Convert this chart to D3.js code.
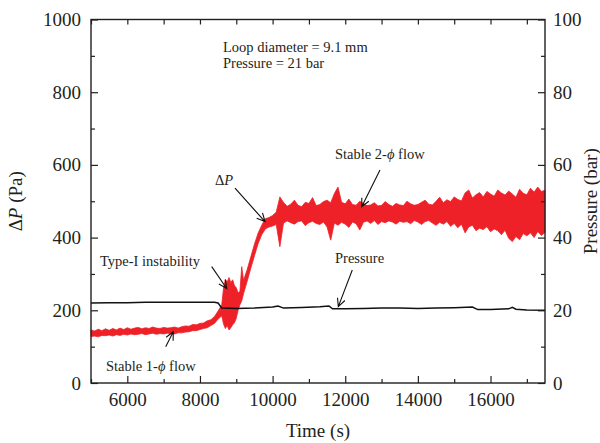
<!DOCTYPE html>
<html>
<head>
<meta charset="utf-8">
<script src="https://cdnjs.cloudflare.com/ajax/libs/d3/7.8.5/d3.min.js"></script>
<style>
  body { margin: 0; background: #fff; }
  text { font-family: "Liberation Serif", "Times New Roman", serif; fill: #231f20; }
  .tick text { font-size: 19px; }
  .axis-title { font-size: 19px; }
  .note { font-size: 14.5px; }
</style>
</head>
<body>
<div id="chart"></div>
<script>

// [time (s), low ΔP, high ΔP]  envelope of the noisy red trace
const deltaP = [
  [5000,128,146],[5100,129,143],[5200,127,148],[5300,131,144],[5400,130,149],
  [5500,132,145],[5600,129,150],[5700,133,146],[5800,131,151],[5900,134,147],
  [6000,132,152],[6100,135,148],[6200,133,151],[6300,134,153],[6400,136,149],
  [6500,133,152],[6600,135,150],[6700,137,154],[6800,134,151],[6900,136,150],
  [7000,135,153],[7100,137,151],[7200,136,152],[7300,135,154],[7400,138,151],
  [7500,138,155],[7600,140,157],[7700,141,156],[7800,144,161],[7900,144,160],
  [8000,147,164],[8100,150,165],[8200,152,171],[8300,158,174],[8400,164,183],
  [8500,176,198],[8600,185,215],[8650,162,262],[8700,150,285],[8750,158,278],
  [8800,146,290],[8850,152,276],[8900,160,284],[8950,166,268],[9000,178,262],
  [9050,200,248],[9100,215,252],[9150,226,320],[9200,246,282],[9300,280,312],
  [9400,316,347],[9500,350,382],[9600,383,412],[9700,408,434],[9800,424,452],
  [9900,429,455],[10000,432,461],[10100,436,470],[10200,375,512],[10300,440,497],
  [10400,446,486],[10500,441,492],[10600,437,503],[10700,444,489],[10800,446,485],
  [10900,433,497],[11000,441,494],[11100,445,510],[11200,439,488],[11300,436,491],
  [11400,443,499],[11500,429,503],[11600,393,496],[11700,440,521],[11800,434,539],
  [11900,442,497],[12000,437,493],[12100,428,506],[12200,443,491],[12300,438,489],
  [12400,421,500],[12500,442,494],[12600,446,488],[12700,439,490],[12800,447,496],
  [12900,436,487],[13000,444,489],[13100,441,499],[13200,446,491],[13300,443,486],
  [13400,437,494],[13500,445,490],[13600,442,488],[13700,444,500],[13800,438,493],
  [13900,447,489],[14000,443,491],[14100,436,497],[14200,444,503],[14300,447,492],
  [14400,440,490],[14500,434,500],[14600,442,511],[14700,437,496],[14800,444,504],
  [14900,431,499],[15000,439,512],[15100,427,505],[15200,437,501],[15300,413,523],
  [15400,429,531],[15500,434,509],[15600,419,518],[15700,426,524],[15800,422,512],
  [15900,430,527],[16000,416,520],[16100,424,514],[16200,419,531],[16300,408,523],
  [16400,420,517],[16500,398,528],[16600,389,520],[16700,403,511],[16800,394,533],
  [16900,411,522],[17000,405,518],[17100,413,536],[17200,400,525],[17300,417,539],
  [17400,406,527],[17500,414,530]
];

// [time (s), pressure (bar)]
const pressure = [
  [5000,22.0],[5500,22.1],[6000,22.1],[6500,22.2],[7000,22.2],[7500,22.2],
  [8000,22.2],[8400,22.2],[8500,22.0],[8600,20.6],[9000,20.5],[9500,20.6],
  [10000,20.9],[10150,21.2],[10300,20.6],[10800,20.8],[11300,21.0],[11550,21.2],
  [11650,20.4],[12000,20.4],[12500,20.5],[13000,20.6],[13500,20.6],[14000,20.5],
  [14500,20.6],[15000,20.7],[15500,20.9],[15650,20.2],[16000,20.2],[16500,20.4],
  [16600,20.8],[16700,20.3],[17000,20.1],[17500,20.0]
];

const timeTicks = [6000, 8000, 10000, 12000, 14000, 16000];
const timeMinor = [5000, 7000, 9000, 11000, 13000, 15000, 17000];
const dpTicks = [0, 200, 400, 600, 800, 1000];
const dpMinor = [100, 300, 500, 700, 900];
const presTicks = [0, 20, 40, 60, 80, 100];
const presMinor = [10, 30, 50, 70, 90];

// labels placed in data units (time, ΔP)
const notes = [
  {t: 8634, v: 910, parts: [["Loop diameter = 9.1 mm", false]]},
  {t: 8634, v: 867, parts: [["Pressure = 21 bar", false]]},
  {t: 8414, v: 545, parts: [["Δ", false], ["P", true]]},
  {t: 11718, v: 615, parts: [["Stable 2-", false], ["ϕ", true], [" flow", false]]},
  {t: 5248, v: 322, parts: [["Type-I instability", false]]},
  {t: 11718, v: 331, parts: [["Pressure", false]]},
  {t: 5413, v: 34, parts: [["Stable 1-", false], ["ϕ", true], [" flow", false]]}
];

// [tail time, tail ΔP, tip time, tip ΔP]
const arrows = [
  [8965, 536, 9791, 444],
  [12957, 586, 12453, 485],
  [8323, 320, 8736, 260],
  [12194, 311, 11809, 210],
  [7057, 100, 7266, 141]
];


class LoopVis {

  constructor(_parentElement, _dp, _pres) {
    this.parentElement = _parentElement;
    this.dp = _dp;
    this.pres = _pres;
    this.initVis();
  }

  initVis() {
    let vis = this;

    vis.margin = {top: 19.5, right: 55, bottom: 60, left: 91};
    vis.width = 600 - vis.margin.left - vis.margin.right;
    vis.height = 443 - vis.margin.top - vis.margin.bottom;

    vis.svg = d3.select(vis.parentElement)
      .append("svg")
      .attr("width", 600)
      .attr("height", 443)
      .append("g")
      .attr("transform", "translate(" + vis.margin.left + "," + vis.margin.top + ")");

    vis.x = d3.scaleLinear().domain([5000, 17500]).range([0, vis.width]);
    vis.yDp = d3.scaleLinear().domain([0, 1000]).range([vis.height, 0]);
    vis.yPres = d3.scaleLinear().domain([0, 100]).range([vis.height, 0]);

    vis.wrangleData();
  }

  wrangleData() {
    let vis = this;
    vis.displayDp = vis.dp;
    vis.displayPres = vis.pres;
    vis.updateVis();
  }

  updateVis() {
    let vis = this;

    // red ΔP band
    let area = d3.area()
      .x(d => vis.x(d[0]))
      .y0(d => vis.yDp(d[1]))
      .y1(d => vis.yDp(d[2]));

    vis.svg.append("path")
      .datum(vis.displayDp)
      .attr("d", area)
      .attr("fill", "#ed2127")
      .attr("stroke", "#ed2127")
      .attr("stroke-width", 0.8);

    // pressure trace
    let line = d3.line()
      .x(d => vis.x(d[0]))
      .y(d => vis.yPres(d[1]));

    vis.svg.append("path")
      .datum(vis.displayPres)
      .attr("d", line)
      .attr("fill", "none")
      .attr("stroke", "#111")
      .attr("stroke-width", 1.5);

    // axes, ticks point inward
    function addAxis(axis, transform) {
      let g = vis.svg.append("g").attr("transform", transform).call(axis);
      g.select(".domain").remove();
      g.selectAll(".tick line").attr("stroke", "#231f20").attr("stroke-width", 1.2);
      return g;
    }

    addAxis(d3.axisBottom(vis.x).tickValues(timeTicks).tickSize(-7).tickPadding(10).tickFormat(d3.format("d")),
      "translate(0," + vis.height + ")");
    addAxis(d3.axisBottom(vis.x).tickValues(timeMinor).tickSize(-4).tickFormat(""),
      "translate(0," + vis.height + ")");
    addAxis(d3.axisTop(vis.x).tickValues(timeTicks.concat(timeMinor)).tickSize(-5).tickFormat(""),
      "translate(0,0)");

    addAxis(d3.axisLeft(vis.yDp).tickValues(dpTicks).tickSize(-7).tickPadding(10).tickFormat(d3.format("d")),
      "translate(0,0)");
    addAxis(d3.axisLeft(vis.yDp).tickValues(dpMinor).tickSize(-4).tickFormat(""),
      "translate(0,0)");

    addAxis(d3.axisRight(vis.yPres).tickValues(presTicks).tickSize(-7).tickPadding(8).tickFormat(d3.format("d")),
      "translate(" + vis.width + ",0)");
    addAxis(d3.axisRight(vis.yPres).tickValues(presMinor).tickSize(-4).tickFormat(""),
      "translate(" + vis.width + ",0)");

    vis.svg.selectAll(".tick text").style("font-family", null).attr("fill", "#231f20");

    vis.svg.append("rect")
      .attr("width", vis.width)
      .attr("height", vis.height)
      .attr("fill", "none")
      .attr("stroke", "#231f20")
      .attr("stroke-width", 1.4);

    // axis titles
    vis.svg.append("text")
      .attr("class", "axis-title")
      .attr("x", vis.width / 2)
      .attr("y", vis.height + 54)
      .attr("text-anchor", "middle")
      .text("Time (s)");

    let leftTitle = vis.svg.append("text")
      .attr("class", "axis-title")
      .attr("transform", "translate(" + (-69) + "," + (vis.height / 2) + ") rotate(-90)")
      .attr("text-anchor", "middle");
    leftTitle.append("tspan").text("Δ");
    leftTitle.append("tspan").style("font-style", "italic").text("P");
    leftTitle.append("tspan").text(" (Pa)");

    vis.svg.append("text")
      .attr("class", "axis-title")
      .attr("transform", "translate(" + (vis.width + 52) + "," + (vis.height / 2) + ") rotate(-90)")
      .attr("text-anchor", "middle")
      .text("Pressure (bar)");

    // annotations
    notes.forEach(n => {
      let t = vis.svg.append("text")
        .attr("class", "note")
        .attr("x", vis.x(n.t))
        .attr("y", vis.yDp(n.v));
      n.parts.forEach(p => {
        t.append("tspan").style("font-style", p[1] ? "italic" : "normal").text(p[0]);
      });
    });

    arrows.forEach(a => {
      let x0 = vis.x(a[0]), y0 = vis.yDp(a[1]);
      let x1 = vis.x(a[2]), y1 = vis.yDp(a[3]);
      let ang = Math.atan2(y1 - y0, x1 - x0);
      let len = 9, spread = 0.45;
      let ax = x1 - len * Math.cos(ang - spread), ay = y1 - len * Math.sin(ang - spread);
      let bx = x1 - len * Math.cos(ang + spread), by = y1 - len * Math.sin(ang + spread);
      vis.svg.append("path")
        .attr("d", "M" + x0 + "," + y0 + "L" + x1 + "," + y1 +
                   "M" + ax + "," + ay + "L" + x1 + "," + y1 + "L" + bx + "," + by)
        .attr("fill", "none")
        .attr("stroke", "#111")
        .attr("stroke-width", 1.1);
    });
  }
}

new LoopVis("#chart", deltaP, pressure);
</script>
</body>
</html>
